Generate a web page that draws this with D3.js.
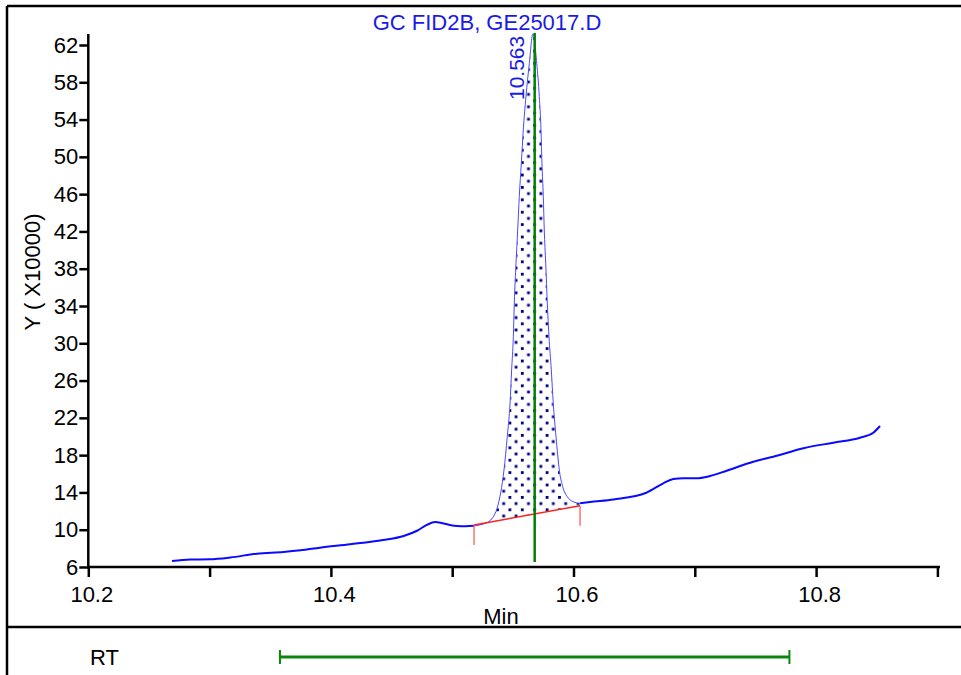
<!DOCTYPE html>
<html>
<head>
<meta charset="utf-8">
<script src="https://cdn.jsdelivr.net/npm/d3@7"></script>
<style>
  html, body { margin: 0; padding: 0; background: #fff; }
  svg { display: block; font-family: "Liberation Sans", Arial, sans-serif; }
</style>
</head>
<body>
<svg id="chart" width="961" height="675"></svg>
<script>
// Chromatogram trace: retention time (min) and detector response (x10000)
const timeMin = [
  10.269, 10.284, 10.300, 10.317, 10.339, 10.361, 10.375, 10.391, 10.416, 10.443,
  10.460, 10.471, 10.479, 10.486, 10.492, 10.498, 10.504, 10.511, 10.518, 10.527,
  10.5334, 10.537, 10.540, 10.5427, 10.5454, 10.5477, 10.5490, 10.5504, 10.5512, 10.5526,
  10.5540, 10.5553, 10.5570, 10.5586, 10.5608, 10.5636, 10.5665, 10.5697, 10.5718, 10.5732,
  10.5740, 10.5751, 10.5759, 10.5771, 10.5784, 10.5798, 10.5817, 10.5833, 10.5856, 10.5883,
  10.5911, 10.5949, 10.5998, 10.6054, 10.6136, 10.6330, 10.6600, 10.6740, 10.6823, 10.6905,
  10.7016, 10.7125, 10.7263, 10.7482, 10.7647, 10.7895, 10.8142, 10.8362, 10.8472, 10.8527
];
const signal = [
  6.64, 6.80, 6.83, 7.02, 7.43, 7.61, 7.79, 8.07, 8.44, 8.90,
  9.33, 9.89, 10.51, 10.83, 10.69, 10.51, 10.40, 10.37, 10.42, 10.67,
  11.30, 12.30, 14.00, 16.41, 19.98, 23.60, 27.14, 30.71, 34.33, 38.59,
  42.16, 45.73, 49.32, 52.89, 56.46, 60.04, 63.20, 60.04, 56.46, 52.89,
  49.32, 45.73, 42.16, 38.59, 34.33, 30.71, 27.14, 23.60, 19.98, 16.41,
  14.62, 13.54, 13.00, 12.83, 12.97, 13.25, 13.97, 14.98, 15.44, 15.52,
  15.52, 15.76, 16.33, 17.30, 17.83, 18.74, 19.34, 19.87, 20.41, 21.13
];

// Integrated peak: start/end times and baseline response at each end
const baselineTime = [10.518, 10.6054];
const baselineValue = [10.50, 12.58];
const peakRT = 10.563;
const expectedRT = 10.568;
const rtWindow = [10.358, 10.778];

// Axis ticks
const yTicks = [6, 10, 14, 18, 22, 26, 30, 34, 38, 42, 46, 50, 54, 58, 62];
const xTicks = [10.2, 10.3, 10.4, 10.5, 10.6, 10.7, 10.8, 10.9];
const xTickLabels = ["10.2", "", "10.4", "", "10.6", "", "10.8", ""];

const titleText = "GC FID2B, GE25017.D";
const yLabelText = "Y ( X10000)";
const xLabelText = "Min";
const rtLabelText = "RT";

const svg = d3.select("#chart");
const FONT = 22;

const x = d3.scaleLinear().domain([10.2, 10.9]).range([88.3, 937.4]);
const y = d3.scaleLinear().domain([6, 62]).range([567, 45]);

const data = timeMin.map((t, i) => ({ t, v: signal[i] }));
const baseAt = t => baselineValue[0] + (t - baselineTime[0]) *
  (baselineValue[1] - baselineValue[0]) / (baselineTime[1] - baselineTime[0]);

// Report frame
svg.append("line").attr("x1", 7).attr("x2", 961).attr("y1", 6).attr("y2", 6)
  .attr("stroke", "#000").attr("stroke-width", 2.5);
svg.append("line").attr("x1", 7).attr("x2", 7).attr("y1", 6).attr("y2", 675)
  .attr("stroke", "#000").attr("stroke-width", 2.5);
svg.append("line").attr("x1", 7).attr("x2", 961).attr("y1", 627).attr("y2", 627)
  .attr("stroke", "#000").attr("stroke-width", 2.5);

// Dot fill for integrated area
const defs = svg.append("defs");
const step = 6.2;
const dot = 2.8;
const pat = defs.append("pattern").attr("id", "dots")
  .attr("patternUnits", "userSpaceOnUse")
  .attr("width", step * 2).attr("height", step * 2)
  .attr("x", x(expectedRT) - dot / 2).attr("y", 0);
pat.append("rect").attr("x", 0).attr("y", 0).attr("width", dot).attr("height", dot).attr("fill", "#000080");
pat.append("rect").attr("x", step).attr("y", step).attr("width", dot).attr("height", dot).attr("fill", "#000080");

const inPeak = data.filter(d => d.t >= baselineTime[0] && d.t <= baselineTime[1]);
const area = d3.area()
  .x(d => x(d.t))
  .y0(d => y(baseAt(d.t)))
  .y1(d => y(Math.max(d.v, baseAt(d.t))))
  .curve(d3.curveMonotoneX);
svg.append("path").datum(inPeak).attr("d", area).attr("fill", "url(#dots)");

// Trace: thick outside the integrated region, thin outline over the peak
const line = d3.line().x(d => x(d.t)).y(d => y(d.v)).curve(d3.curveMonotoneX);
const before = data.filter(d => d.t <= baselineTime[0]);
const after = data.filter(d => d.t >= baselineTime[1]);
svg.append("path").datum(before).attr("d", line).attr("fill", "none")
  .attr("stroke", "#0a0aff").attr("stroke-width", 2);
svg.append("path").datum(after).attr("d", line).attr("fill", "none")
  .attr("stroke", "#0a0aff").attr("stroke-width", 2);
svg.append("path").datum(inPeak).attr("d", line).attr("fill", "none")
  .attr("stroke", "#4a4aff").attr("stroke-width", 1);

// Baseline with end markers
svg.append("line")
  .attr("x1", x(baselineTime[0])).attr("y1", y(baselineValue[0]))
  .attr("x2", x(baselineTime[1])).attr("y2", y(baselineValue[1]))
  .attr("stroke", "#ff2020").attr("stroke-width", 1.5);
baselineTime.forEach((t, i) => {
  svg.append("line")
    .attr("x1", x(t)).attr("x2", x(t))
    .attr("y1", y(baselineValue[i])).attr("y2", y(baselineValue[i]) + 20)
    .attr("stroke", "#ff5050").attr("stroke-width", 1.2);
});

// Expected retention time marker
svg.append("line")
  .attr("x1", x(expectedRT)).attr("x2", x(expectedRT))
  .attr("y1", 33).attr("y2", 562)
  .attr("stroke", "#008000").attr("stroke-width", 2.5);

// Y axis
const yAxis = d3.axisLeft(y).tickValues(yTicks).tickSize(9).tickPadding(1)
  .tickFormat(d3.format("d"));
const gy = svg.append("g").attr("transform", "translate(88.3,0)").call(yAxis);
gy.select(".domain").remove();
gy.selectAll(".tick line").attr("stroke", "#000").attr("stroke-width", 2.5);
gy.selectAll(".tick text").attr("font-size", FONT).attr("fill", "#000")
  .attr("font-family", "Liberation Sans, Arial, sans-serif");
svg.append("line").attr("x1", 88.3).attr("x2", 88.3).attr("y1", 34).attr("y2", 567)
  .attr("stroke", "#000").attr("stroke-width", 2.5);

// X axis
const xAxis = d3.axisBottom(x).tickValues(xTicks).tickSize(10).tickPadding(9)
  .tickFormat((d, i) => xTickLabels[i]);
const gx = svg.append("g").attr("transform", "translate(0,567)").call(xAxis);
gx.select(".domain").remove();
gx.selectAll(".tick line").attr("stroke", "#000").attr("stroke-width", 2.5);
gx.selectAll(".tick text").attr("font-size", FONT).attr("fill", "#000")
  .attr("dx", 3)
  .attr("font-family", "Liberation Sans, Arial, sans-serif");
svg.append("line").attr("x1", 87).attr("x2", 940).attr("y1", 567).attr("y2", 567)
  .attr("stroke", "#000").attr("stroke-width", 2.5);

// Titles and labels
svg.append("text").attr("x", 487).attr("y", 30).attr("text-anchor", "middle")
  .attr("font-size", FONT).attr("fill", "#1a1ae6").text(titleText);
svg.append("text").attr("transform", "translate(40,272) rotate(-90)")
  .attr("text-anchor", "middle").attr("font-size", FONT).attr("fill", "#000").text(yLabelText);
svg.append("text").attr("x", 501).attr("y", 624).attr("text-anchor", "middle")
  .attr("font-size", FONT).attr("fill", "#000").text(xLabelText);
svg.append("text")
  .attr("transform", `translate(${x(peakRT) - 5},100) rotate(-90)`)
  .attr("text-anchor", "start").attr("font-size", 21).attr("fill", "#1a1ae6")
  .text(d3.format(".3f")(peakRT));

// RT window panel
svg.append("text").attr("x", 90).attr("y", 665).attr("font-size", FONT).attr("fill", "#000").text(rtLabelText);
const rtY = 657;
svg.append("line").attr("x1", x(rtWindow[0])).attr("x2", x(rtWindow[1]))
  .attr("y1", rtY).attr("y2", rtY).attr("stroke", "#0a870a").attr("stroke-width", 3);
rtWindow.forEach(t => {
  svg.append("line").attr("x1", x(t)).attr("x2", x(t))
    .attr("y1", rtY - 7).attr("y2", rtY + 7)
    .attr("stroke", "#0a870a").attr("stroke-width", 2);
});
</script>
</body>
</html>
